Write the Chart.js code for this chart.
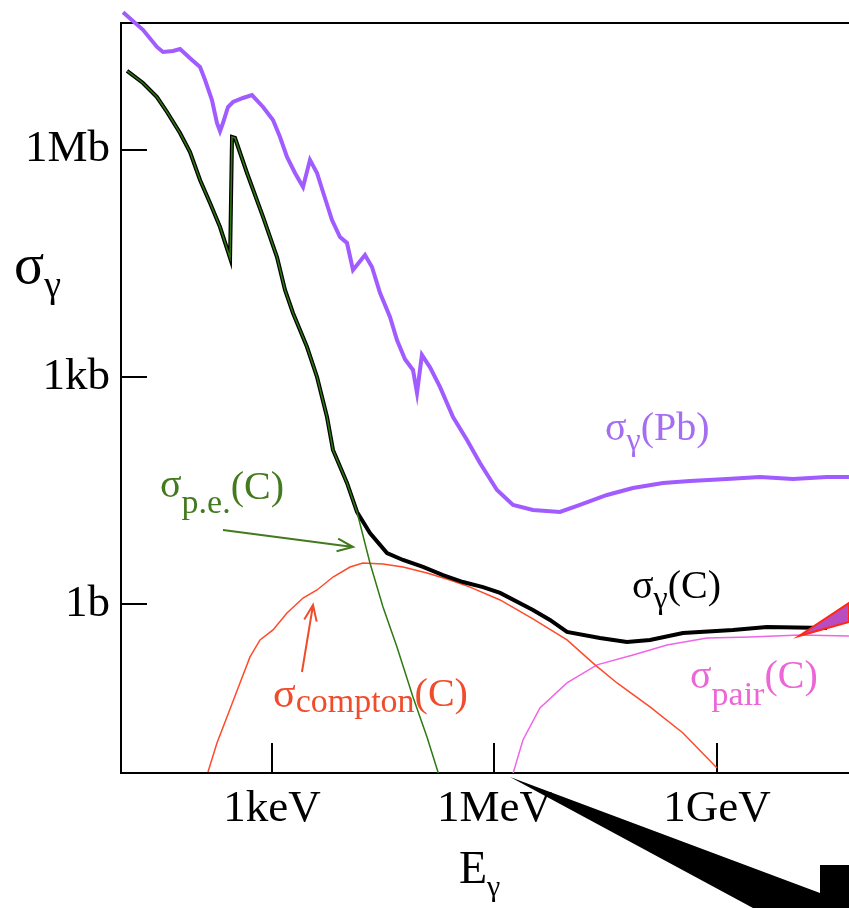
<!DOCTYPE html>
<html>
<head>
<meta charset="utf-8">
<script src="https://cdn.jsdelivr.net/npm/chart.js@4.4.1/dist/chart.umd.min.js"></script>
<style>
  html, body { margin: 0; padding: 0; background: #fff; overflow: hidden; }
</style>
</head>
<body>
<canvas id="sigmaChart" width="849" height="908"></canvas>
<script>
// photon energy in eV, cross sections in barns
const energyTicks = [1e3, 1e6, 1e9];
const energyTickLabels = ['1keV', '1MeV', '1GeV'];
const sigmaTicks = [1, 1e3, 1e6];
const sigmaTickLabels = ['1b', '1kb', '1Mb'];

// total cross section, lead
const pbEnergy = [9.8, 18.2, 28.1, 33.9, 46.2, 57.5, 83.4, 107, 125, 155, 181, 199, 218, 255, 298, 406, 537, 757,
  1031, 1282, 1592, 2042, 2620, 3252, 4045, 4872, 6442, 8257, 10260, 12370, 17940, 22290, 28570, 39000, 48430,
  62100, 79600, 90200, 105000, 135000, 184000, 276000, 426000, 637000, 1.08e6, 1.78e6, 3.30e6, 7.64e6, 1.42e7,
  3.29e7, 7.36e7, 1.87e8, 4.33e8, 1.36e9, 3.80e9, 1.06e10, 3.04e10, 6.02e10];
const pbSigma = [6.5e7, 3.8e7, 2.26e7, 1.94e7, 2.0e7, 2.12e7, 1.52e7, 1.23e7, 8.3e6, 4.5e6, 2.24e6, 1.75e6, 2.24e6,
  3.64e6, 4.24e6, 4.79e6, 5.24e6, 3.64e6, 2.45e6, 1.46e6, 8.0e5, 4.9e5, 3.2e5, 7.3e5, 4.9e5, 2.75e5, 1.17e5, 7.0e4,
  5.84e4, 2.57e4, 4.05e4, 2.81e4, 1.28e4, 6150, 3050, 1700, 1230, 610, 1940, 1330, 733, 294, 146, 72.6, 32, 20.3,
  17.4, 16.4, 20.3, 27.5, 34, 39.6, 42.1, 44.7, 47.5, 44.7, 47.5, 47.5];

// total cross section, carbon
const cEnergy = [11.1, 18.2, 28.1, 38.4, 57.5, 78.4, 107, 146, 199, 272, 289, 317, 460, 757, 1167, 1497, 1918, 2965,
  4045, 5517, 6641, 10260, 14000, 20940, 35540, 58400, 108600, 202000, 376000, 700000, 1.19e6, 3.30e6, 5.60e6,
  9.50e6, 2.64e7, 6.11e7, 1.25e8, 3.48e8, 1.64e9, 4.72e9, 3.04e10];
const cSigma = [1.09e7, 7.55e6, 4.93e6, 3.13e6, 1.65e6, 9.27e5, 3.96e5, 1.97e5, 9.48e4, 3.7e4, 1.46e6, 1.42e6, 4.9e5,
  1.29e5, 3.81e4, 1.40e4, 6950, 2470, 993, 294, 108, 39.6, 16.4, 8.65, 4.71, 3.81, 3.08, 2.41, 1.95, 1.67, 1.40,
  0.833, 0.615, 0.427, 0.356, 0.315, 0.335, 0.414, 0.454, 0.497, 0.482];

// photoelectric part, carbon
const peEnergy = [11.1, 18.2, 28.1, 38.4, 57.5, 78.4, 107, 146, 199, 272, 289, 317, 460, 757, 1167, 1497, 1918, 2965,
  4045, 5517, 6641, 10260, 14000, 20940, 31380, 48430, 79600, 123000, 173000, 190000];
const peSigma = [1.09e7, 7.55e6, 4.93e6, 3.13e6, 1.65e6, 9.27e5, 3.96e5, 1.97e5, 9.48e4, 3.7e4, 1.46e6, 1.42e6, 4.9e5,
  1.29e5, 3.81e4, 1.40e4, 6950, 2470, 993, 294, 108, 39.6, 16.4, 3.48, 0.912, 0.271, 0.0592, 0.0175, 0.00605, 0.004];

// Compton part, carbon
const comptonEnergy = [137, 181, 247, 370, 505, 689, 1031, 1592, 2620, 4045, 6641, 11270, 16860, 31380, 58400,
  123000, 251000, 468000, 1.19e6, 3.30e6, 9.50e6, 2.27e7, 4.49e7, 1.25e8, 3.48e8, 1.00e9];
const comptonSigma = [0.00605, 0.0146, 0.0322, 0.0906, 0.200, 0.335, 0.454, 0.760, 1.20, 1.53, 2.27, 3.08, 3.48,
  3.37, 3.08, 2.56, 2.07, 1.67, 1.13, 0.634, 0.335, 0.157, 0.0906, 0.0437, 0.0198, 0.00684];

// pair production part, carbon
const pairEnergy = [1.78e6, 2.42e6, 4.10e6, 9.50e6, 2.41e7, 7.36e7, 2.12e8, 7.33e8, 2.79e9, 1.32e10, 6.02e10];
const pairSigma = [0.0058, 0.0160, 0.0424, 0.0906, 0.157, 0.212, 0.288, 0.356, 0.367, 0.390, 0.378];

const SERIF = '"Liberation Serif", "Times New Roman", serif';

function pts(xs, ys) {
  return xs.map((x, i) => ({ x: x, y: ys[i] }));
}

// text with sub/superscript pieces: [text, size, dy]
function drawRich(ctx, x, y, parts, color) {
  ctx.save();
  ctx.fillStyle = color;
  ctx.textAlign = 'left';
  ctx.textBaseline = 'alphabetic';
  let cx = x;
  parts.forEach(p => {
    ctx.font = p[1] + 'px ' + SERIF;
    ctx.fillText(p[0], cx, y + p[2]);
    cx += ctx.measureText(p[0]).width;
  });
  ctx.restore();
}

function drawArrow(ctx, x1, y1, x2, y2, color) {
  const ang = Math.atan2(y2 - y1, x2 - x1);
  const len = 17, spread = 0.38;
  ctx.save();
  ctx.strokeStyle = color;
  ctx.lineWidth = 2;
  ctx.beginPath();
  ctx.moveTo(x1, y1);
  ctx.lineTo(x2, y2);
  ctx.moveTo(x2 - len * Math.cos(ang - spread), y2 - len * Math.sin(ang - spread));
  ctx.lineTo(x2, y2);
  ctx.lineTo(x2 - len * Math.cos(ang + spread), y2 - len * Math.sin(ang + spread));
  ctx.stroke();
  ctx.restore();
}

const curveLabels = [
  { e: 3.09e7, s: 146, color: '#a56ef2', parts: [['σ', 40, 0], ['γ', 32, 10], ['(Pb)', 40, 0]] },
  { e: 7.14e7, s: 1.2, color: '#000000', parts: [['σ', 40, 0], ['γ', 32, 10], ['(C)', 40, 0]] },
  { e: 4.33e8, s: 0.0778, color: '#ec66d8', parts: [['σ', 40, 0], ['pair', 34, 17], ['(C)', 40, 0]] },
  { e: 30.9, s: 25.9, color: '#437a1e', parts: [['σ', 40, 0], ['p.e.', 34, 16], ['(C)', 40, 2]] },
  { e: 1031, s: 0.0437, color: '#f04c2c', parts: [['σ', 42, 0], ['compton', 34, 5], ['(C)', 40, -1]] }
];

const curveArrows = [
  { from: [218, 9.48], to: [12370, 5.65], color: '#437a1e' },
  { from: [2535, 0.1265], to: [3573, 0.97], color: '#f04c2c' }
];

const decorations = {
  id: 'decorations',
  beforeDatasetsDraw(chart) {
    const { ctx, chartArea: a, scales: { x, y } } = chart;
    ctx.save();
    ctx.strokeStyle = '#000';
    ctx.lineWidth = 2;
    ctx.beginPath();
    ctx.moveTo(a.left - 1, a.top);
    ctx.lineTo(a.right, a.top);
    // inward tick marks
    sigmaTicks.forEach(v => {
      const py = Math.round(y.getPixelForValue(v));
      ctx.moveTo(a.left, py);
      ctx.lineTo(a.left + 26, py);
    });
    energyTicks.forEach(v => {
      const px = Math.round(x.getPixelForValue(v));
      ctx.moveTo(px, a.bottom);
      ctx.lineTo(px, a.bottom - 30);
    });
    ctx.stroke();
    ctx.restore();
  },
  afterDraw(chart) {
    const { ctx, scales: { x, y } } = chart;

    // axis titles
    drawRich(ctx, 14, 283, [['σ', 56, 0], ['γ', 38, 14]], '#000');
    drawRich(ctx, 459, 883, [['E', 46, 0], ['γ', 30, 13]], '#000');

    curveLabels.forEach(l => {
      drawRich(ctx, x.getPixelForValue(l.e), y.getPixelForValue(l.s), l.parts, l.color);
    });
    curveArrows.forEach(r => {
      drawArrow(ctx, x.getPixelForValue(r.from[0]), y.getPixelForValue(r.from[1]),
        x.getPixelForValue(r.to[0]), y.getPixelForValue(r.to[1]), r.color);
    });

    // pointer wedges overlapping the frame
    ctx.save();
    ctx.fillStyle = '#b94cc0';
    ctx.strokeStyle = '#ff2a10';
    ctx.lineWidth = 2;
    ctx.beginPath();
    ctx.moveTo(799, 636);
    ctx.lineTo(849, 603);
    ctx.lineTo(849, 622);
    ctx.closePath();
    ctx.fill();
    ctx.stroke();

    ctx.fillStyle = '#000';
    ctx.beginPath();
    ctx.moveTo(510, 777);
    ctx.lineTo(820, 893);
    ctx.lineTo(820, 865);
    ctx.lineTo(849, 865);
    ctx.lineTo(849, 908);
    ctx.lineTo(753, 908);
    ctx.closePath();
    ctx.fill();
    ctx.restore();
  }
};

const thin = { pointRadius: 0, borderWidth: 1.5, fill: false, tension: 0 };

// keep the plot area fixed regardless of label overhang
function noOverhang(s) {
  s.paddingTop = 0;
  s.paddingBottom = 0;
  s.paddingLeft = 0;
  s.paddingRight = 0;
}

new Chart(document.getElementById('sigmaChart'), {
  type: 'line',
  data: {
    datasets: [
      Object.assign({ label: 'σp.e.(C)', data: pts(peEnergy, peSigma), borderColor: '#2f7a10' }, thin),
      Object.assign({ label: 'σγ(C)', data: pts(cEnergy, cSigma), borderColor: '#000000' }, thin, { borderWidth: 4 }),
      Object.assign({ label: 'σcompton(C)', data: pts(comptonEnergy, comptonSigma), borderColor: '#ff4a2a' }, thin),
      Object.assign({ label: 'σpair(C)', data: pts(pairEnergy, pairSigma), borderColor: '#f064e6' }, thin),
      Object.assign({ label: 'σγ(Pb)', data: pts(pbEnergy, pbSigma), borderColor: '#a05cff', clip: false }, thin, { borderWidth: 4 })
    ]
  },
  options: {
    responsive: false,
    animation: false,
    devicePixelRatio: 1,
    layout: { padding: { top: 23, right: 0, bottom: 0, left: 0 } },
    plugins: { legend: { display: false }, tooltip: { enabled: false } },
    scales: {
      x: {
        type: 'logarithmic',
        position: 'bottom',
        min: 9.2,
        max: 6.03e10,
        grid: { display: false, drawTicks: false },
        border: { display: true, color: '#000', width: 2 },
        ticks: {
          color: '#000',
          font: { family: SERIF, size: 45 },
          padding: 9,
          maxRotation: 0,
          autoSkip: false,
          callback: (v, i) => energyTickLabels[i]
        },
        afterBuildTicks: s => { s.ticks = energyTicks.map(v => ({ value: v })); },
        afterFit: s => { s.height = 135; noOverhang(s); }
      },
      y: {
        type: 'logarithmic',
        min: 0.00587,
        max: 4.68e7,
        grid: { display: false, drawTicks: false },
        border: { display: true, color: '#000', width: 2 },
        ticks: {
          color: '#000',
          font: { family: SERIF, size: 45 },
          padding: 11,
          autoSkip: false,
          callback: (v, i) => sigmaTickLabels[i]
        },
        afterBuildTicks: s => { s.ticks = sigmaTicks.map(v => ({ value: v })); },
        afterFit: s => { s.width = 121; noOverhang(s); }
      }
    }
  },
  plugins: [decorations]
});
</script>
</body>
</html>
